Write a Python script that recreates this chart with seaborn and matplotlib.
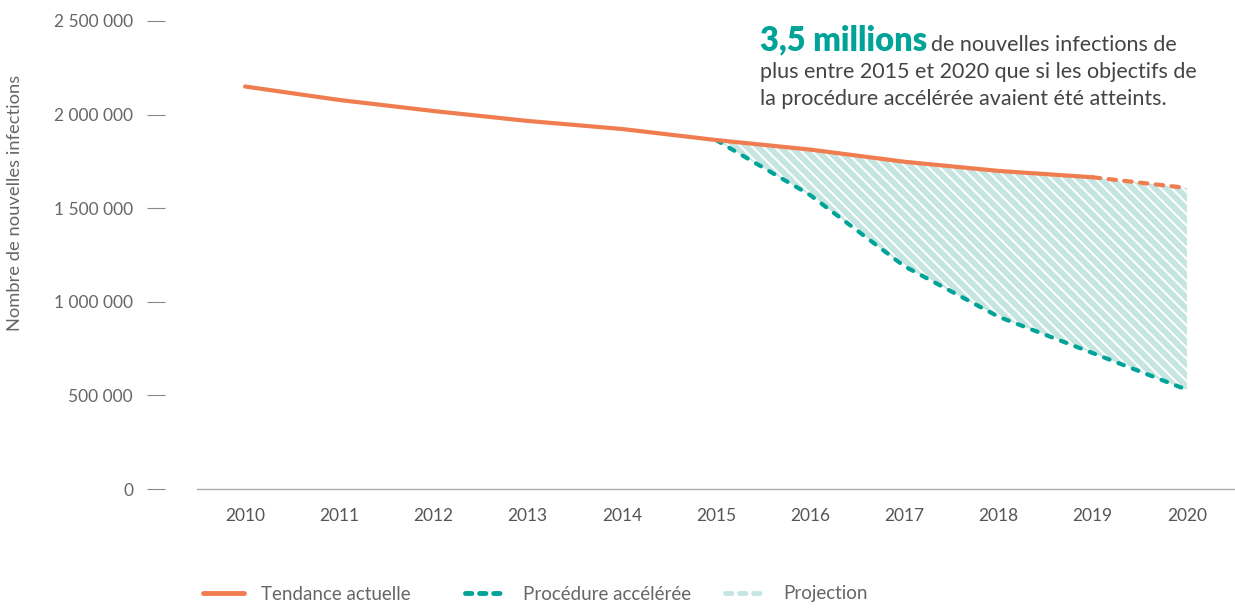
import matplotlib
matplotlib.use("Agg")
import matplotlib.pyplot as plt
from matplotlib.lines import Line2D
import seaborn as sns
import numpy as np

# data
years = [2010, 2011, 2012, 2013, 2014, 2015, 2016, 2017, 2018, 2019, 2020]
tendance = [2150000, 2078000, 2019000, 1966000, 1923000, 1864000,
            1813000, 1748000, 1699000, 1665000, 1608000]
proc_years = [2015, 2016, 2017, 2018, 2019, 2020]
procedure = [1864000, 1570000, 1190000, 920000, 726000, 530000]
yticks = [0, 500000, 1000000, 1500000, 2000000, 2500000]
legend_labels = ["Tendance actuelle", "Procédure accélérée", "Projection"]

ORANGE = "#f07d50"
TEAL = "#00a398"
LIGHT = "#c5e5e1"
GREY = "#666666"

sns.set_style("white")
plt.rcParams["font.family"] = ["Lato", "DejaVu Sans"]
plt.rcParams["hatch.linewidth"] = 4.2

W, H = 1235, 608
fig = plt.figure(figsize=(W / 100, H / 100), dpi=100)
ax = fig.add_axes([197 / W, 1 - 489 / H, 1 - 197 / W, 477.4 / H])

# move the (invisible) left spine out first: it resets the ticks
ax.spines["left"].set_position(("outward", 23))
ax.spines["left"].set_color("none")
for s in ["top", "right"]:
    ax.spines[s].set_visible(False)
ax.spines["bottom"].set_color("#aaaaaa")
ax.spines["bottom"].set_linewidth(1)

# hatched gap between current trend and fast-track
proj_top = np.array(tendance[5:])
ax.fill_between(proc_years, procedure, proj_top, facecolor="none",
                edgecolor=LIGHT, hatch="\\\\\\", linewidth=0, zorder=1)

sns.lineplot(x=years[:10], y=tendance[:10], ax=ax, color=ORANGE,
             linewidth=3, zorder=3)
sns.lineplot(x=years[9:], y=tendance[9:], ax=ax, color=ORANGE,
             linewidth=3, linestyle=(0, (1.8, 2.0)),
             dash_capstyle="round", zorder=3)
sns.lineplot(x=proc_years, y=procedure, ax=ax, color=TEAL,
             linewidth=3, linestyle=(0, (1.4, 2.3)),
             dash_capstyle="round", zorder=2)

ax.set_xlim(2009.49, 2020.51)
ax.set_ylim(0, 2550000)
ax.set_xticks(years)
ax.set_xticklabels([str(y) for y in years], color="#555555", fontsize=12.5)
ax.set_yticks(yticks)
ax.set_yticklabels([f"{v:,}".replace(",", " ") for v in yticks],
                   color=GREY, fontsize=12.5)
ax.tick_params(axis="y", direction="out", length=13, width=0.8,
               color="#888888", pad=10, left=True)
ax.tick_params(axis="x", length=0, pad=14)
ax.set_xlabel("")
ax.set_ylabel("")

fig.text(15 / W, 1 - 203 / H, "Nombre de nouvelles infections",
         rotation=90, ha="center", va="center", color=GREY, fontsize=13.2)

# annotation
fig.text(760 / W, 1 - 40 / H, "3,5 millions", color=TEAL, fontsize=23.5,
         fontweight="heavy", ha="left", va="center")
fig.text(931 / W, 1 - 45 / H, "de nouvelles infections de", color="#444444",
         fontsize=15.5, ha="left", va="center")
fig.text(760 / W, 1 - 72 / H, "plus entre 2015 et 2020 que si les objectifs de",
         color="#444444", fontsize=15.5, ha="left", va="center")
fig.text(760 / W, 1 - 99 / H, "la procédure accélérée avaient été atteints.",
         color="#444444", fontsize=15.5, ha="left", va="center")

handles = [
    Line2D([], [], color=ORANGE, linewidth=3.5),
    Line2D([], [], color=TEAL, linewidth=3.5, linestyle=(0, (1.3, 1.6)),
           dash_capstyle="round"),
    Line2D([], [], color=LIGHT, linewidth=3.5, linestyle=(0, (1.3, 1.6)),
           dash_capstyle="round"),
]
# one legend per entry so each sits where the reference has it
for h, lab, x0 in zip(handles, legend_labels, [203, 465, 725]):
    leg = fig.legend([h], [lab], loc="center left",
                     bbox_to_anchor=(x0 / W, 1 - 594 / H), frameon=False,
                     handlelength=2.2, handletextpad=0.9,
                     borderpad=0, borderaxespad=0, prop={"size": 13.5})
    for t in leg.get_texts():
        t.set_color(GREY)

fig.savefig("out.png", dpi=100)
